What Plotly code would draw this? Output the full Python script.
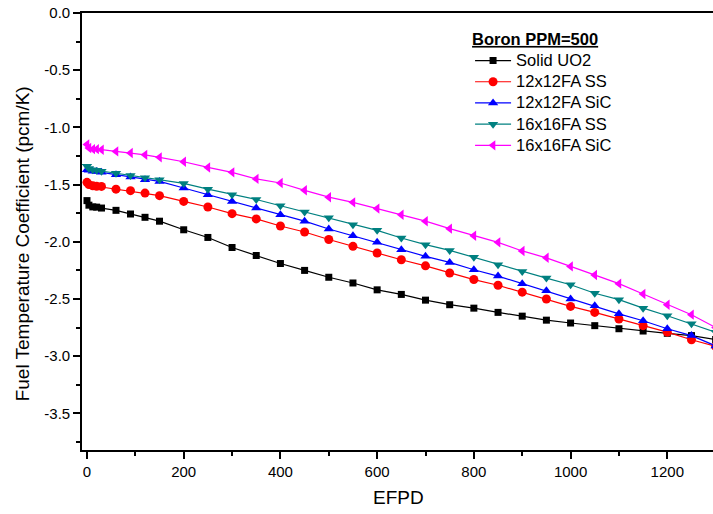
import plotly.graph_objects as go

# ---- data ----
efpd = [0, 4, 12, 20, 30, 60, 90, 120, 150, 200, 250, 300, 350, 400, 450, 500,
        550, 600, 650, 700, 750, 800, 850, 900, 950, 1000, 1050, 1100, 1150,
        1200, 1250, 1300]

solid_uo2 = [-1.64, -1.68, -1.695, -1.697, -1.705, -1.725, -1.757, -1.786, -1.82,
             -1.895, -1.962, -2.05, -2.12, -2.19, -2.25, -2.31, -2.36, -2.42,
             -2.46, -2.51, -2.55, -2.58, -2.617, -2.65, -2.685, -2.71, -2.733,
             -2.76, -2.78, -2.80, -2.82, -2.855]

fa12_ss = [-1.48, -1.50, -1.51, -1.515, -1.516, -1.54, -1.553, -1.574, -1.597,
           -1.647, -1.696, -1.754, -1.80, -1.862, -1.914, -1.98, -2.04, -2.098,
           -2.157, -2.21, -2.273, -2.33, -2.38, -2.44, -2.50, -2.565, -2.617,
           -2.675, -2.733, -2.79, -2.856, -2.915]

fa12_sic = [-1.37, -1.375, -1.384, -1.386, -1.393, -1.413, -1.434, -1.457, -1.472,
            -1.53, -1.588, -1.647, -1.705, -1.763, -1.82, -1.888, -1.947, -2.005,
            -2.07, -2.127, -2.18, -2.244, -2.30, -2.366, -2.428, -2.50, -2.56,
            -2.63, -2.69, -2.76, -2.82, -2.91]

fa16_ss = [-1.34, -1.36, -1.37, -1.375, -1.384, -1.40, -1.42, -1.44, -1.457,
           -1.49, -1.54, -1.588, -1.63, -1.685, -1.74, -1.79, -1.85, -1.90,
           -1.967, -2.025, -2.075, -2.136, -2.20, -2.26, -2.317, -2.375, -2.45,
           -2.506, -2.58, -2.646, -2.716, -2.79]

fa16_sic = [-1.15, -1.18, -1.19, -1.19, -1.195, -1.21, -1.224, -1.24, -1.262,
            -1.30, -1.35, -1.393, -1.45, -1.486, -1.55, -1.61, -1.655, -1.71,
            -1.763, -1.82, -1.885, -1.947, -2.005, -2.08, -2.14, -2.215, -2.29,
            -2.366, -2.456, -2.55, -2.637, -2.75]

series_names = ["Solid UO2", "12x12FA SS", "12x12FA SiC", "16x16FA SS", "16x16FA SiC"]
series_values = [solid_uo2, fa12_ss, fa12_sic, fa16_ss, fa16_sic]
series_colors = ["#000000", "#FF0000", "#0000FF", "#008080", "#FF00FF"]
series_symbols = ["square", "circle", "triangle-up", "triangle-down", "triangle-left"]
series_sizes = [7, 9, 9, 9, 9]

x_tickvals = [0, 200, 400, 600, 800, 1000, 1200]
x_ticktext = ["0", "200", "400", "600", "800", "1000", "1200"]
x_minor = [100, 300, 500, 700, 900, 1100]
y_tickvals = [0.0, -0.5, -1.0, -1.5, -2.0, -2.5, -3.0, -3.5]
y_ticktext = ["0.0", "-0.5", "-1.0", "-1.5", "-2.0", "-2.5", "-3.0", "-3.5"]
y_minor = [-0.25, -0.75, -1.25, -1.75, -2.25, -2.75, -3.25, -3.75]

FONT = "Arial, 'Liberation Sans', sans-serif"

fig = go.Figure()
for name, vals, col, sym, sz in zip(series_names, series_values, series_colors,
                                     series_symbols, series_sizes):
    fig.add_trace(go.Scatter(
        x=efpd, y=vals, mode="lines+markers",
        name=f"<span style='font-size:16.5px'>{name}</span>",
        line=dict(color=col, width=1.2),
        marker=dict(symbol=sym, size=sz, color=col, line=dict(width=0)),
    ))

axis_common = dict(
    showgrid=False, zeroline=False, showline=True, linecolor="black",
    linewidth=1.6, ticks="outside", ticklen=7, tickwidth=1.5, tickcolor="black",
    tickfont=dict(family=FONT, size=15, color="black"),
)

fig.update_layout(
    width=713, height=514, autosize=False,
    margin=dict(l=82, r=0, t=13, b=64, pad=0),
    paper_bgcolor="white", plot_bgcolor="white",
    font=dict(family=FONT, color="black"),
    xaxis=dict(range=[-10.3, 1294.5], tickmode="array", tickvals=x_tickvals,
               ticktext=x_ticktext, mirror=True,
               minor=dict(tickmode="array", tickvals=x_minor, ticks="outside",
                          ticklen=4, tickwidth=1.5, tickcolor="black"),
               **axis_common),
    yaxis=dict(range=[-3.82, 0], tickmode="array", tickvals=y_tickvals,
               ticktext=y_ticktext,
               minor=dict(tickmode="array", tickvals=y_minor, ticks="outside",
                          ticklen=4, tickwidth=1.5, tickcolor="black"),
               **axis_common),
    legend=dict(
        x=0.615, y=0.976, xanchor="left", yanchor="top",
        bgcolor="rgba(0,0,0,0)", borderwidth=0,
        font=dict(family=FONT, size=14, color="black"),
        itemwidth=36,
        title=dict(text="<b><u>Boron PPM=500</u></b>",
                   font=dict(family=FONT, size=16.5, color="black")),
    ),
    annotations=[
        dict(text="EFPD", xref="paper", yref="paper", x=0.5016, y=-0.1076,
             xanchor="center", yanchor="middle", showarrow=False,
             font=dict(family=FONT, size=19, color="black")),
        dict(text="Fuel Temperature Coefficient (pcm/K)", xref="paper",
             yref="paper", x=-0.0943, y=0.4717, textangle=-90,
             xanchor="center", yanchor="middle", showarrow=False,
             font=dict(family=FONT, size=19, color="black")),
    ],
)

fig.write_html("out.html")
